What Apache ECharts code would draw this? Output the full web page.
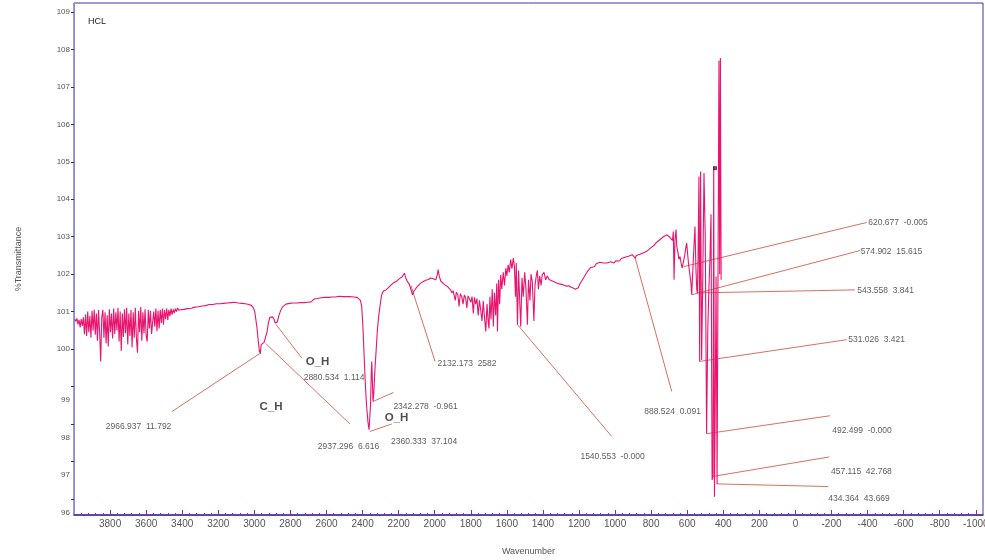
<!DOCTYPE html>
<html>
<head>
<meta charset="utf-8">
<script src="https://cdn.jsdelivr.net/npm/echarts@6/dist/echarts.min.js"></script>
<style>
  html, body { margin: 0; padding: 0; background: #ffffff; }
  #chart { width: 985px; height: 560px; }
</style>
</head>
<body>
<div id="chart" style="width:985px;height:560px;"></div>
<script>
// FTIR spectrum of the HCL sample: [wavenumber (cm-1), %T]

// 4000-3400: water-vapour rotation noise
const bandWaterHigh = [
  [3996,100.80],[3990,100.74],[3984,100.82],[3978,100.66],[3972,100.78],[3966,100.58],[3960,100.80],[3954,100.62],
  [3948,100.85],[3942,100.40],[3936,100.92],[3930,100.35],[3924,101.00],[3918,100.45],[3912,100.88],[3906,100.30],
  [3900,101.02],[3894,100.50],[3888,101.05],[3882,100.38],[3876,100.95],[3870,100.22],[3864,101.04],[3858,100.45],
  [3852,99.67],[3846,100.85],[3840,101.05],[3834,100.30],[3828,100.98],[3822,100.15],[3816,100.90],[3810,100.07],
  [3804,101.06],[3798,100.45],[3792,100.95],[3786,100.28],[3780,101.08],[3774,100.40],[3768,100.98],[3762,100.50],
  [3756,101.10],[3750,100.20],[3744,101.00],[3738,99.95],[3732,100.95],[3726,100.32],[3720,101.06],[3714,100.42],
  [3708,101.10],[3702,100.12],[3696,100.95],[3690,100.35],[3684,101.05],[3678,100.05],[3672,100.98],[3666,100.30],
  [3660,101.10],[3654,100.30],[3648,99.90],[3642,101.02],[3636,100.45],[3630,101.12],[3624,100.22],[3618,100.98],
  [3612,100.42],[3606,101.06],[3600,100.35],[3594,100.20],[3588,101.04],[3582,100.55],[3576,101.02],[3570,100.40],
  [3564,100.35],[3558,101.00],[3552,100.60],[3546,101.08],[3540,100.48],[3534,101.02],[3528,100.55],[3522,101.05],
  [3516,100.70],[3510,101.08],[3504,100.65],[3498,101.04],[3492,100.80],[3486,101.08],[3480,100.78],[3474,101.05],
  [3468,100.88],[3462,101.08],[3456,100.92],[3450,101.06],[3444,100.96],[3438,101.08],[3432,101.00],[3426,101.10],
  [3420,101.04],[3414,101.08],[3408,101.05],[3400,101.10]
];

// 3400-2420: C-H / O-H stretching region
const bandStretch = [
  [3390,101.06],[3380,101.10],[3370,101.08],[3360,101.12],[3350,101.09],[3340,101.14],[3330,101.12],[3320,101.15],
  [3310,101.13],[3300,101.17],[3290,101.15],[3280,101.18],[3270,101.16],[3260,101.20],[3250,101.19],[3240,101.21],
  [3230,101.19],[3220,101.22],[3210,101.21],[3200,101.23],[3190,101.21],[3180,101.24],[3170,101.22],[3160,101.25],
  [3150,101.23],[3140,101.25],[3130,101.24],[3120,101.23],[3110,101.25],[3100,101.22],[3090,101.23],[3080,101.21],
  [3070,101.22],[3060,101.20],[3050,101.21],[3040,101.19],[3030,101.19],[3015,101.16],[3005,101.10],[2998,101.00],
  [2992,100.80],[2985,100.55],[2978,100.20],[2972,99.95],[2967,99.88],[2962,100.12],[2955,100.15],[2946,100.18],
  [2937,100.15],[2930,100.45],[2922,100.70],[2914,100.85],[2908,100.89],[2900,100.86],[2891,100.80],[2885,100.70],
  [2880,100.66],[2873,100.72],[2865,100.88],[2855,101.02],[2845,101.12],[2835,101.16],[2825,101.20],[2815,101.18],
  [2805,101.22],[2795,101.20],[2785,101.23],[2775,101.21],[2765,101.23],[2755,101.22],[2745,101.24],[2735,101.22],
  [2725,101.24],[2715,101.23],[2705,101.25],[2695,101.24],[2685,101.26],[2675,101.30],[2668,101.34],[2660,101.36],
  [2650,101.35],[2640,101.38],[2630,101.37],[2620,101.39],[2610,101.38],[2600,101.40],[2590,101.38],[2580,101.40],
  [2570,101.39],[2560,101.41],[2550,101.39],[2540,101.40],[2530,101.41],[2520,101.39],[2510,101.40],[2500,101.38],
  [2490,101.40],[2480,101.39],[2470,101.40],[2460,101.38],[2450,101.39],[2440,101.37],[2430,101.38],[2420,101.36]
];

// 2412-2130: CO2 doublet and recovery
const bandCO2 = [
  [2412,101.30],[2405,101.15],[2398,100.60],[2392,99.90],[2385,99.10],[2378,98.50],[2370,98.05],[2364,97.85],
  [2360,97.80],[2356,98.50],[2352,99.30],[2349,99.67],[2346,99.20],[2342,98.60],[2338,98.80],[2332,99.40],
  [2325,99.95],[2318,100.50],[2310,100.90],[2302,101.20],[2294,101.45],[2285,101.55],[2278,101.52],[2270,101.58],
  [2262,101.60],[2255,101.65],[2248,101.63],[2240,101.72],[2232,101.70],[2225,101.78],[2218,101.76],[2210,101.82],
  [2202,101.84],[2195,101.88],[2188,101.86],[2180,101.93],[2174,101.96],[2168,102.03],[2162,101.92],[2155,101.84],
  [2148,101.78],[2140,101.72],[2132,101.70]
];

// 2123-1400: bending-region water-vapour noise
const bandWaterLow = [
  [2123,101.45],[2115,101.55],[2105,101.60],[2095,101.68],[2085,101.72],[2077,101.76],[2065,101.80],[2050,101.84],
  [2035,101.86],[2022,101.90],[2008,101.88],[1994,101.85],[1985,102.00],[1981,102.12],[1975,101.95],[1966,101.81],
  [1955,101.76],[1945,101.72],[1935,101.68],[1929,101.67],[1920,101.62],[1912,101.58],[1905,101.50],[1898,101.56],
  [1893,101.54],[1886,101.30],[1880,101.52],[1872,101.45],[1865,101.14],[1858,101.48],[1850,101.40],[1843,101.20],
  [1836,101.44],[1829,101.38],[1822,101.10],[1815,101.42],[1808,101.35],[1800,101.25],[1793,101.40],[1786,100.95],
  [1780,101.38],[1773,101.20],[1766,101.35],[1759,100.90],[1752,101.30],[1745,101.05],[1738,100.75],[1731,101.28],
  [1724,100.85],[1717,100.47],[1710,101.20],[1703,100.70],[1699,100.55],[1694,101.40],[1688,100.80],[1681,101.60],
  [1675,100.60],[1669,101.50],[1662,100.90],[1656,101.75],[1652,100.47],[1646,101.85],[1640,101.20],[1634,101.98],
  [1628,101.60],[1620,102.05],[1613,101.70],[1606,102.16],[1600,101.95],[1593,102.25],[1586,102.05],[1579,102.39],
  [1572,102.15],[1564,102.43],[1558,102.20],[1552,101.40],[1548,102.30],[1541,100.65],[1535,102.10],[1528,101.20],
  [1523,100.60],[1516,101.90],[1509,101.40],[1501,102.05],[1494,101.60],[1486,100.65],[1480,101.85],[1472,101.30],
  [1466,102.00],[1459,101.80],[1450,100.75],[1444,101.70],[1437,101.95],[1431,102.10],[1425,101.60],[1418,101.95],
  [1410,101.70],[1404,101.98]
];

// 1394-712: broad baseline rise
const bandMid = [
  [1394,102.05],[1385,101.85],[1376,101.95],[1366,101.86],[1357,101.90],[1348,101.82],[1340,101.84],[1330,101.78],
  [1320,101.80],[1310,101.74],[1300,101.76],[1290,101.72],[1280,101.73],[1268,101.68],[1256,101.69],[1244,101.65],
  [1232,101.63],[1220,101.60],[1212,101.58],[1204,101.64],[1195,101.74],[1185,101.82],[1175,101.90],[1165,101.98],
  [1155,102.06],[1145,102.10],[1135,102.18],[1125,102.22],[1115,102.20],[1105,102.28],[1095,102.25],[1085,102.32],
  [1075,102.27],[1065,102.30],[1055,102.26],[1045,102.30],[1035,102.27],[1025,102.33],[1015,102.35],[1005,102.30],
  [995,102.36],[985,102.38],[975,102.35],[965,102.42],[955,102.40],[945,102.45],[935,102.43],[925,102.48],
  [915,102.46],[905,102.52],[895,102.50],[888.5,102.43],[882,102.50],[872,102.55],[862,102.53],[852,102.58],
  [842,102.57],[832,102.60],[822,102.62],[812,102.66],[802,102.70],[792,102.74],[782,102.78],[772,102.84],
  [762,102.88],[752,102.92],[742,102.96],[732,103.00],[722,103.03],[712,103.05]
];

// 700-412: fingerprint region
const bandFingerprint = [
  [700,103.00],[690,102.95],[682,102.90],[677,103.14],[673,101.85],[668,102.90],[662,103.19],[658,102.74],
  [652,102.60],[646,102.40],[640,102.47],[634,102.30],[628,102.16],[620.7,102.20],[614,102.50],[608,102.70],
  [603,102.83],[597,102.50],[591,102.20],[585,102.20],[580,101.80],[574.9,101.45],[570,102.00],[566,102.39],
  [561,102.90],[557,103.27],[552,102.20],[547,101.58],[543.6,101.50],[540,102.40],[535,104.60],[531,99.67],
  [526,104.74],[520,99.71],[514,101.80],[507,104.70],[500,103.00],[492.5,97.74],[486,100.50],[480,101.58],
  [474,102.40],[468,103.60],[462,96.51],[457.1,96.60],[453,104.88],[449,96.06],[444,99.00],[440,101.94],
  [434.4,96.40],[430,101.20],[424,107.70],[420,102.00],[416,107.77],[412,101.85]
];

// cursor marker left on the plot
const cursorPoint = [[446, 104.83]];

// peak picks: wavenumber, reported value, %T where the leader starts
const peakWavenumbers = [2966.937, 2937.296, 2880.534, 2360.333, 2342.278, 2132.173, 1540.553, 888.524,
                         620.677, 574.902, 543.558, 531.026, 492.499, 457.115, 434.364];
const peakValues = ['11.792', '6.616', '1.114', '37.104', '-0.961', '2582', '-0.000', '0.091',
                    '-0.005', '15.615', '3.841', '3.421', '-0.000', '42.768', '43.669'];
const peakLevels = [99.89, 100.15, 100.66, 97.80, 98.60, 101.70, 100.65, 102.43,
                    102.20, 101.45, 101.50, 99.67, 97.74, 96.60, 96.40];

// group assignments
const groupNames = ['C_H', 'O_H', 'O_H'];

// axis tick values
const xTickValues = [3800, 3600, 3400, 3200, 3000, 2800, 2600, 2400, 2200, 2000, 1800, 1600, 1400, 1200,
                     1000, 800, 600, 400, 200, 0, -200, -400, -600, -800, -1000];
const yTickValues = [96, 97, 98, 99, 100, 101, 102, 103, 104, 105, 106, 107, 108, 109];

// ---- layout of the annotation text (in axis units) ----
const leaderEnds = [[3458, 98.33], [2470, 98.00], [2737, 99.76], [2238, 98.00], [2229, 98.84], [1998, 99.67],
                    [1019, 97.67], [686, 98.87], [-395, 103.38], [-358, 102.63], [-330, 101.58], [-284, 100.25],
                    [-192, 98.22], [-188, 97.12], [-182, 96.33]];
const labelAnchors = [[3642, 97.93], [2478, 97.40], [2558, 99.24], [2059, 97.53], [2051, 98.47], [1821, 99.61],
                      [1014, 97.12], [681, 98.33], [-569, 103.37], [-533, 102.61], [-500, 101.56], [-450, 100.24],
                      [-369, 97.82], [-366, 96.72], [-353, 96.00]];
const groupAnchors = [[2908, 98.47], [2650, 99.67], [2212, 98.16]];

const FONT = '"Liberation Sans", Arial, sans-serif';
const X_MIN = -1040, X_MAX = 4000;
const Y_MIN = 95.57, Y_MAX = 109.24;
const LOW_LABEL_DROP = 0.36;   // labels below 100 sit a little under their ticks

const spectrum = [].concat(bandWaterHigh, bandStretch, bandCO2, bandWaterLow, bandMid, bandFingerprint);

const minorTicks = [];
for (let v = -1000; v <= 3960; v += 40) {
  if (v % 200 !== 0) minorTicks.push(v);
}

const leaderSeries = peakWavenumbers.map((w, i) => ({
  type: 'line',
  xAxisIndex: 0, yAxisIndex: 0,
  silent: true, symbol: 'none', animation: false, z: 1,
  lineStyle: { color: '#d6725f', width: 1 },
  data: [[w, peakLevels[i]], leaderEnds[i]]
}));

const peakLabelSeries = {
  type: 'scatter', xAxisIndex: 0, yAxisIndex: 0,
  silent: true, animation: false, symbolSize: 1, z: 5,
  itemStyle: { color: 'rgba(0,0,0,0)' },
  data: peakWavenumbers.map((w, i) => ({ name: w.toFixed(3) + '  ' + peakValues[i], value: labelAnchors[i] })),
  label: { show: true, position: 'inside', formatter: '{b}', fontSize: 8.5, color: '#333', fontFamily: FONT }
};

const groupLabelSeries = {
  type: 'scatter', xAxisIndex: 0, yAxisIndex: 0,
  silent: true, animation: false, symbolSize: 1, z: 5,
  itemStyle: { color: 'rgba(0,0,0,0)' },
  data: groupNames.map((g, i) => ({ name: g, value: groupAnchors[i] })),
  label: { show: true, position: 'inside', formatter: '{b}', fontSize: 11.5, fontWeight: 'bold',
           color: '#222', fontFamily: FONT }
};

const chart = echarts.init(document.getElementById('chart'), null, { renderer: 'canvas', width: 985, height: 560 });

chart.setOption({
  animation: false,
  backgroundColor: '#ffffff',
  title: {
    text: 'HCL', left: 83, top: 12,
    textStyle: { fontSize: 9, fontWeight: 'normal', color: '#222', fontFamily: FONT }
  },
  grid: {
    left: 74, right: 2, top: 3, bottom: 45,
    containLabel: false, outerBoundsMode: 'none',
    show: true, borderColor: '#3a36a8', borderWidth: 1, backgroundColor: 'transparent'
  },
  xAxis: [
    {
      type: 'value', inverse: true, min: X_MIN, max: X_MAX, position: 'bottom',
      name: 'Wavenumber', nameLocation: 'middle', nameGap: 32,
      nameTextStyle: { fontSize: 9, color: '#555', fontFamily: FONT },
      splitLine: { show: false },
      axisLine: { show: true, onZero: false, lineStyle: { color: '#3b2f9e', width: 1.5 } },
      axisTick: { show: true, inside: true, length: 5, customValues: xTickValues,
                  lineStyle: { color: '#b5207a', width: 1 } },
      axisLabel: { show: true, customValues: xTickValues, formatter: v => String(v), margin: 4,
                   fontSize: 10, color: '#555', fontFamily: FONT }
    },
    {
      type: 'value', inverse: true, min: X_MIN, max: X_MAX, position: 'bottom',
      splitLine: { show: false },
      axisLine: { show: false, onZero: false },
      axisTick: { show: true, inside: true, length: 2, customValues: minorTicks,
                  lineStyle: { color: '#b5207a', width: 1 } },
      axisLabel: { show: false }
    }
  ],
  yAxis: [
    {
      type: 'value', min: Y_MIN, max: Y_MAX, position: 'left',
      name: '%Transmittance', nameLocation: 'middle', nameGap: 51, nameRotate: 90,
      nameTextStyle: { fontSize: 9, color: '#555', fontFamily: FONT },
      splitLine: { show: false },
      axisLine: { show: true, onZero: false, lineStyle: { color: '#8c88e8', width: 1 } },
      axisTick: { show: true, inside: false, length: 3, customValues: yTickValues,
                  lineStyle: { color: '#333', width: 1 } },
      axisLabel: { show: true, customValues: yTickValues.filter(v => v >= 100), formatter: v => String(v),
                   margin: 4, fontSize: 8, color: '#555', fontFamily: FONT }
    },
    {
      type: 'value', min: Y_MIN + LOW_LABEL_DROP, max: Y_MAX + LOW_LABEL_DROP, position: 'left',
      splitLine: { show: false },
      axisLine: { show: false, onZero: false },
      axisTick: { show: false },
      axisLabel: { show: true, customValues: yTickValues.filter(v => v < 100), formatter: v => String(v),
                   margin: 4, fontSize: 8, color: '#555', fontFamily: FONT }
    }
  ],
  series: [
    ...leaderSeries,
    {
      name: 'HCL', type: 'line', xAxisIndex: 0, yAxisIndex: 0,
      data: spectrum, showSymbol: false, symbol: 'none', sampling: null, z: 3,
      lineStyle: { color: '#e8156f', width: 1.1 }
    },
    {
      type: 'scatter', xAxisIndex: 0, yAxisIndex: 0, silent: true, z: 4,
      data: cursorPoint, symbol: 'rect', symbolSize: 4, itemStyle: { color: '#5a1838' }
    },
    peakLabelSeries,
    groupLabelSeries
  ]
});
</script>
</body>
</html>
